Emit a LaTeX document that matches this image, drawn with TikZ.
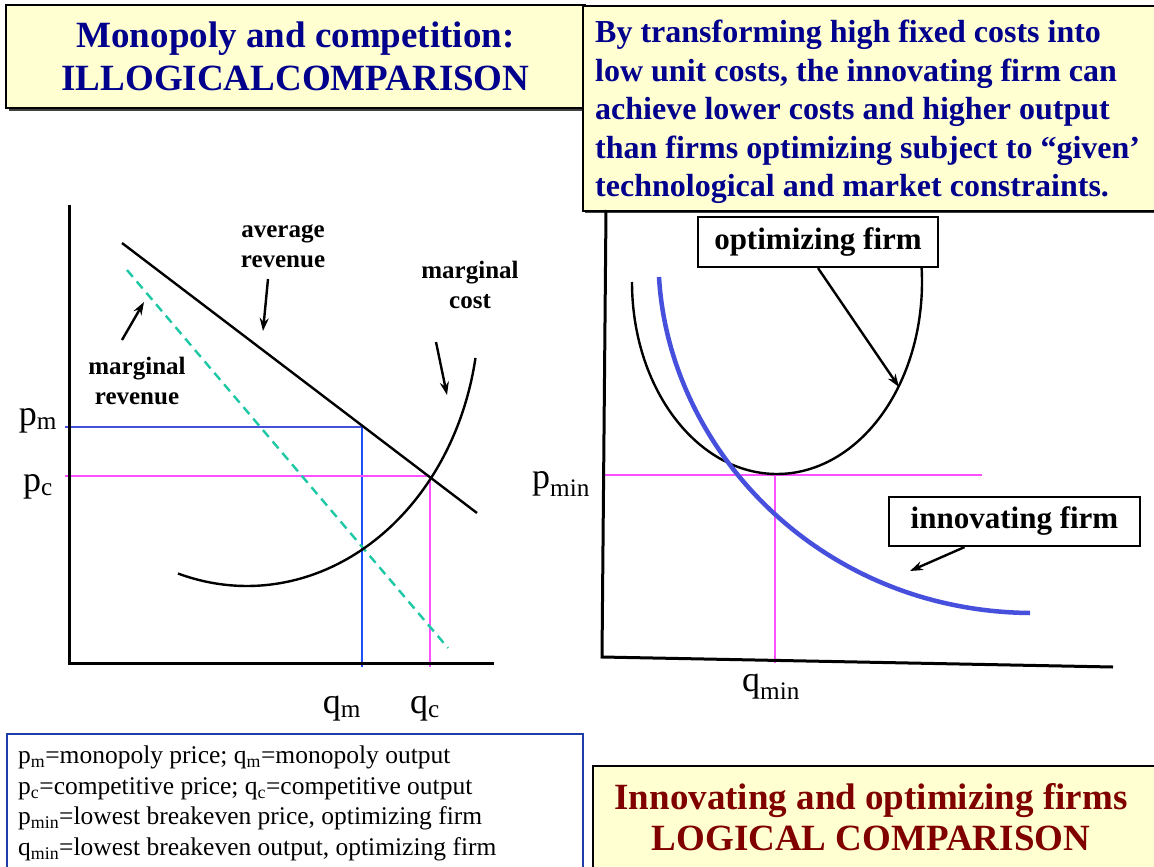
\documentclass[tikz,border=0pt]{standalone}
\usepackage{fontspec}
\setmainfont{Liberation Serif}
\usetikzlibrary{arrows.meta}
\definecolor{yellowbg}{RGB}{255,255,210}
\definecolor{navytext}{RGB}{0,0,140}
\definecolor{darkred}{RGB}{128,0,0}
\definecolor{legblue}{RGB}{30,60,170}
\definecolor{mrteal}{RGB}{30,200,165}
\definecolor{pmblue}{RGB}{70,80,220}
\definecolor{qmblue}{RGB}{30,80,250}
\definecolor{magentaline}{RGB}{255,80,255}
\definecolor{innblue}{RGB}{70,80,220}
\begin{document}
\begin{tikzpicture}[x=1pt,y=-1pt,
  ybox/.style={draw=black, line width=2pt, fill=yellowbg, inner sep=0pt},
  lblbox/.style={draw=black, line width=2.2pt, fill=white, inner sep=0pt, font=\bfseries\fontsize{31}{36}\selectfont},
  lbl/.style={font=\bfseries\fontsize{25}{30.5}\selectfont, align=center, inner sep=0pt},
  axlbl/.style={font=\fontsize{36}{40}\selectfont, inner sep=0pt},
  arr/.style={-{Stealth[length=13pt,width=9pt]}, line width=2.4pt},
  ax/.style={line width=3pt},
  ln/.style={line width=2.4pt},
  shadow/.style={fill=black!75},
]
\fill[white] (0,0) rectangle (1154,867);
\useasboundingbox (0,0) rectangle (1154,867);
\begin{scope}
\clip (0,0) rectangle (1154,867);

% ---------- top-left title box ----------
\fill[shadow] (9,8) rectangle (588,111);
\node[ybox, minimum width=579pt, minimum height=103pt, align=center, text=navytext,
      font=\bfseries\fontsize{37}{42.5}\selectfont] (tl) at (295.5,56.5)
  {Monopoly and competition:\\ILLOGICALCOMPARISON};

% ---------- top-right text box ----------
\fill[shadow] (585,8) rectangle (1170,213);
\node[ybox, minimum width=590pt, minimum height=205pt, anchor=north west] (tr) at (582,5) {};
\node[anchor=north west, align=left, inner sep=0pt, text=navytext,
      font=\bfseries\fontsize{32}{38.5}\selectfont] (trt) at (595,20)
  {By transforming high fixed costs into\\
   low unit costs, the innovating firm can\\
   achieve lower costs and higher output\\
   than firms optimizing subject to “given’\\
   technological and market constraints.};

% ---------- left graph ----------
\coordinate (LT) at (69,205);
\coordinate (LO) at (69,663);
\coordinate (LR) at (494,663);
\coordinate (pmL) at (65,427);
\coordinate (pmR) at (362,427);
\coordinate (qmB) at (362,667);
\coordinate (pcL) at (65,476);
\coordinate (pcR) at (430,476);
\coordinate (qcB) at (430,667);

\draw[pmblue, ln] (pmL) -- (pmR);
\draw[qmblue, ln] (pmR) -- (qmB);
\draw[magentaline, ln] (pcL) -- (pcR);
\draw[magentaline, ln] (pcR) -- (qcB);

\coordinate (arS) at (122,243);
\coordinate (arE) at (477,513);
\draw[ln] (arS) -- (arE);
\coordinate (mrS) at (127,270);
\coordinate (mrE) at (448,648);
\draw[mrteal, ln, dash pattern=on 9pt off 6pt] (mrS) -- (mrE);

% marginal cost: elliptical arc
\coordinate (mcC) at (247,310);
\draw[ln] (mcC) ++(252.7:232pt and 276pt)
  arc[start angle=252.7, end angle=350, x radius=232pt, y radius=276pt];

\draw[ax] (LT) -- (LO) -- (LR);

\node[lbl] (avr) at (283,246) {average\\revenue};
\coordinate (avrA) at (268,279);
\coordinate (avrB) at (263,331);
\draw[arr] (avrA) -- (avrB);

\node[lbl] (mcl) at (470,285) {marginal\\cost};
\coordinate (mcA) at (436,342);
\coordinate (mcB) at (447,395);
\draw[arr] (mcA) -- (mcB);

\node[lbl] (mrl) at (137,381) {marginal\\revenue};
\coordinate (mrA) at (122,340);
\coordinate (mrB) at (144,302);
\draw[arr] (mrA) -- (mrB);

\node[axlbl] (pm) at (38,421) {p\textsubscript{m}};
\node[axlbl] (pc) at (38,487) {p\textsubscript{c}};
\node[axlbl] (qm) at (342,709) {q\textsubscript{m}};
\node[axlbl] (qc) at (425,709) {q\textsubscript{c}};

% ---------- right graph ----------
\coordinate (RT) at (606,210);
\coordinate (RO) at (602,657);
\coordinate (RR) at (1113,667);
\coordinate (pminL) at (603,475);
\coordinate (pminR) at (982,475);
\coordinate (qminT) at (775,475);
\coordinate (qminB) at (775,663);

\draw[magentaline, ln] (pminL) -- (pminR);
\draw[magentaline, ln] (qminT) -- (qminB);

% optimizing firm: elliptical U
\coordinate (uC) at (777,282);
\draw[ln] (uC) ++(180:145pt and 192pt)
  arc[start angle=180, end angle=364.8, x radius=145pt, y radius=192pt];

% innovating firm curve
\coordinate (inS) at (659,277);
\coordinate (inE) at (1030,613);
\draw[innblue, line width=4.5pt] (inS) .. controls (669,450) and (820,611) .. (inE);

\draw[ax] (RT) -- (RO) -- (RR);

\node[lblbox, minimum width=240pt, minimum height=50pt] (opt) at (818,242) {optimizing firm};
\coordinate (optB) at (899,387);
\draw[arr] (opt.south) -- (optB);

\node[lblbox, minimum width=251pt, minimum height=49pt] (inn) at (1014.5,521.5) {innovating firm};
\coordinate (innB) at (910,571);
\draw[arr] ([xshift=-50pt]inn.south) -- (innB);

\node[axlbl] (pmin) at (561,484) {p\textsubscript{min}};
\node[axlbl] (qmin) at (771,687) {q\textsubscript{min}};

% ---------- legend box ----------
\node[draw=legblue, line width=2pt, fill=white, minimum width=576pt, minimum height=160pt,
      anchor=north west, inner sep=0pt] (leg) at (6,733) {};
\node[anchor=north west, align=left, inner sep=0pt,
      font=\fontsize{25.5}{30.5}\selectfont] (legt) at (18,746)
  {p\textsubscript{m}=monopoly price; q\textsubscript{m}=monopoly output\\
   p\textsubscript{c}=competitive price; q\textsubscript{c}=competitive output\\
   p\textsubscript{min}=lowest breakeven price, optimizing firm\\
   q\textsubscript{min}=lowest breakeven output, optimizing firm};

% ---------- bottom-right title box ----------
\node[ybox, minimum width=580pt, minimum height=130pt, anchor=north west] (br) at (592,765) {};
\node[align=center, text=darkred, inner sep=0pt,
      font=\bfseries\fontsize{37}{41}\selectfont] (brt) at (871,817)
  {Innovating and optimizing firms\\LOGICAL COMPARISON};
\end{scope}
\end{tikzpicture}
\end{document}
